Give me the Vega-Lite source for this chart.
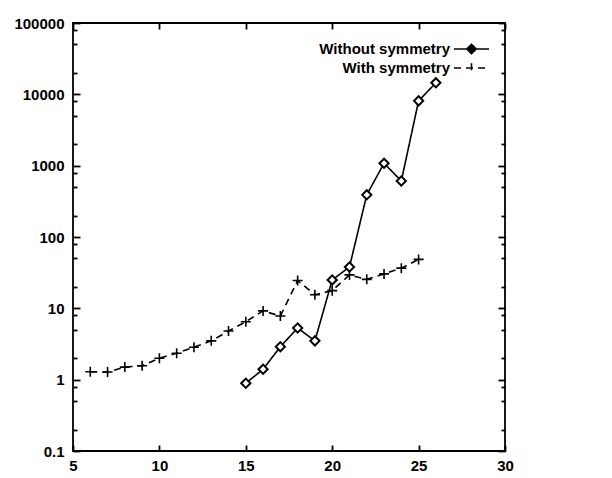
{
  "$schema": "https://vega.github.io/schema/vega-lite/v6.json",
  "autosize": {"type": "none"},
  "padding": {"left": 73, "top": 23, "right": 107, "bottom": 27},
  "width": 432,
  "height": 428,
  "background": "white",
  "config": {
    "view": {"stroke": "black", "strokeWidth": 1.8},
    "font": "Liberation Sans",
    "axis": {"domain": false, "grid": false, "ticks": true, "tickColor": "black", "tickWidth": 1.8, "labelColor": "black", "labelFont": "Liberation Sans", "labelFontWeight": "bold", "labelFontSize": 15, "title": null},
    "legend": {"labelFont": "Liberation Sans", "labelFontWeight": "bold", "labelFontSize": 15, "labelColor": "black", "padding": 0}
  },
  "data": {"values": [
    {"n": 15, "time": 0.89, "series": "Without symmetry"},
    {"n": 16, "time": 1.4, "series": "Without symmetry"},
    {"n": 17, "time": 2.9, "series": "Without symmetry"},
    {"n": 18, "time": 5.3, "series": "Without symmetry"},
    {"n": 19, "time": 3.5, "series": "Without symmetry"},
    {"n": 20, "time": 25, "series": "Without symmetry"},
    {"n": 21, "time": 38, "series": "Without symmetry"},
    {"n": 22, "time": 390, "series": "Without symmetry"},
    {"n": 23, "time": 1080, "series": "Without symmetry"},
    {"n": 24, "time": 610, "series": "Without symmetry"},
    {"n": 25, "time": 8100, "series": "Without symmetry"},
    {"n": 26, "time": 14500, "series": "Without symmetry"},
    {"n": 6, "time": 1.29, "series": "With symmetry"},
    {"n": 7, "time": 1.28, "series": "With symmetry"},
    {"n": 8, "time": 1.5, "series": "With symmetry"},
    {"n": 9, "time": 1.57, "series": "With symmetry"},
    {"n": 10, "time": 2.0, "series": "With symmetry"},
    {"n": 11, "time": 2.35, "series": "With symmetry"},
    {"n": 12, "time": 2.85, "series": "With symmetry"},
    {"n": 13, "time": 3.5, "series": "With symmetry"},
    {"n": 14, "time": 4.8, "series": "With symmetry"},
    {"n": 15, "time": 6.5, "series": "With symmetry"},
    {"n": 16, "time": 9.2, "series": "With symmetry"},
    {"n": 17, "time": 7.8, "series": "With symmetry"},
    {"n": 18, "time": 24.5, "series": "With symmetry"},
    {"n": 19, "time": 15.5, "series": "With symmetry"},
    {"n": 20, "time": 17.7, "series": "With symmetry"},
    {"n": 21, "time": 29.4, "series": "With symmetry"},
    {"n": 22, "time": 25.5, "series": "With symmetry"},
    {"n": 23, "time": 30.4, "series": "With symmetry"},
    {"n": 24, "time": 36.6, "series": "With symmetry"},
    {"n": 25, "time": 48.5, "series": "With symmetry"}
  ]},
  "resolve": {
    "scale": {"x": "shared", "y": "shared", "strokeDash": "independent"},
    "axis": {"x": "independent", "y": "independent"},
    "legend": {"strokeDash": "independent"}
  },
  "layer": [
    {
      "transform": [{"filter": "datum.series === 'Without symmetry'"}],
      "mark": {"type": "line", "color": "black", "strokeWidth": 1.6},
      "encoding": {
        "x": {"field": "n", "type": "quantitative", "scale": {"domain": [5, 30], "nice": false, "zero": false},
              "axis": {"orient": "bottom", "values": [5, 10, 15, 20, 25, 30], "tickSize": 6, "offset": -6, "labelPadding": 7, "labelFlush": false}},
        "y": {"field": "time", "type": "quantitative", "scale": {"type": "log", "domain": [0.1, 100000], "nice": false},
              "axis": {"orient": "left", "values": [0.1, 1, 10, 100, 1000, 10000, 100000], "tickSize": 7, "offset": -7, "labelPadding": 9, "labelFlush": false, "labelExpr": "format(datum.value, '')"}},
        "strokeDash": {"field": "series", "type": "nominal",
                       "scale": {"domain": ["Without symmetry"], "range": [[1, 0]]},
                       "legend": {"title": null, "orient": "none", "legendX": 380, "legendY": 7.5,
                                  "symbolType": "M-1,0H1M0,-0.27L0.27,0L0,0.27L-0.27,0Z", "symbolSize": 1225,
                                  "symbolStrokeColor": "black", "symbolFillColor": "black", "symbolStrokeWidth": 1.6,
                                  "labelAlign": "right", "labelOffset": -40}}
      }
    },
    {
      "transform": [{"filter": "datum.series === 'With symmetry'"}],
      "mark": {"type": "line", "color": "black", "strokeWidth": 1.6},
      "encoding": {
        "x": {"field": "n", "type": "quantitative", "axis": {"orient": "top", "values": [5, 10, 15, 20, 25, 30], "tickSize": 6, "offset": -6, "labels": false}},
        "y": {"field": "time", "type": "quantitative", "axis": {"orient": "right", "values": [0.1, 1, 10, 100, 1000, 10000, 100000], "tickSize": 7, "offset": -7, "labels": false}},
        "strokeDash": {"field": "series", "type": "nominal",
                       "scale": {"domain": ["With symmetry"], "range": [[7, 5]]},
                       "legend": {"title": null, "orient": "none", "legendX": 380, "legendY": 26.5,
                                  "symbolType": "M-1,0H1M0,-0.27V0.27", "symbolSize": 1225,
                                  "symbolStrokeColor": "black", "symbolStrokeWidth": 1.6,
                                  "labelAlign": "right", "labelOffset": -40}}
      }
    },
    {
      "transform": [{"filter": "datum.series === 'Without symmetry'"}],
      "mark": {"type": "point", "shape": "diamond", "filled": false, "fill": "white", "stroke": "black", "strokeWidth": 2, "size": 85, "opacity": 1},
      "encoding": {
        "x": {"field": "n", "type": "quantitative", "axis": null},
        "y": {"field": "time", "type": "quantitative", "axis": {"orient": "left", "values": [0.2, 0.5, 0.8, 2, 5, 8, 20, 50, 80, 200, 500, 800, 2000, 5000, 8000, 20000, 50000, 80000], "tickSize": 4, "offset": -4, "labels": false}}
      }
    },
    {
      "transform": [{"filter": "datum.series === 'With symmetry'"}],
      "mark": {"type": "point", "shape": "M-1,0H1M0,-1V1", "filled": false, "stroke": "black", "strokeWidth": 1.6, "size": 100, "opacity": 1},
      "encoding": {
        "x": {"field": "n", "type": "quantitative", "axis": null},
        "y": {"field": "time", "type": "quantitative", "axis": {"orient": "right", "values": [0.2, 0.5, 0.8, 2, 5, 8, 20, 50, 80, 200, 500, 800, 2000, 5000, 8000, 20000, 50000, 80000], "tickSize": 4, "offset": -4, "labels": false}}
      }
    }
  ]
}
